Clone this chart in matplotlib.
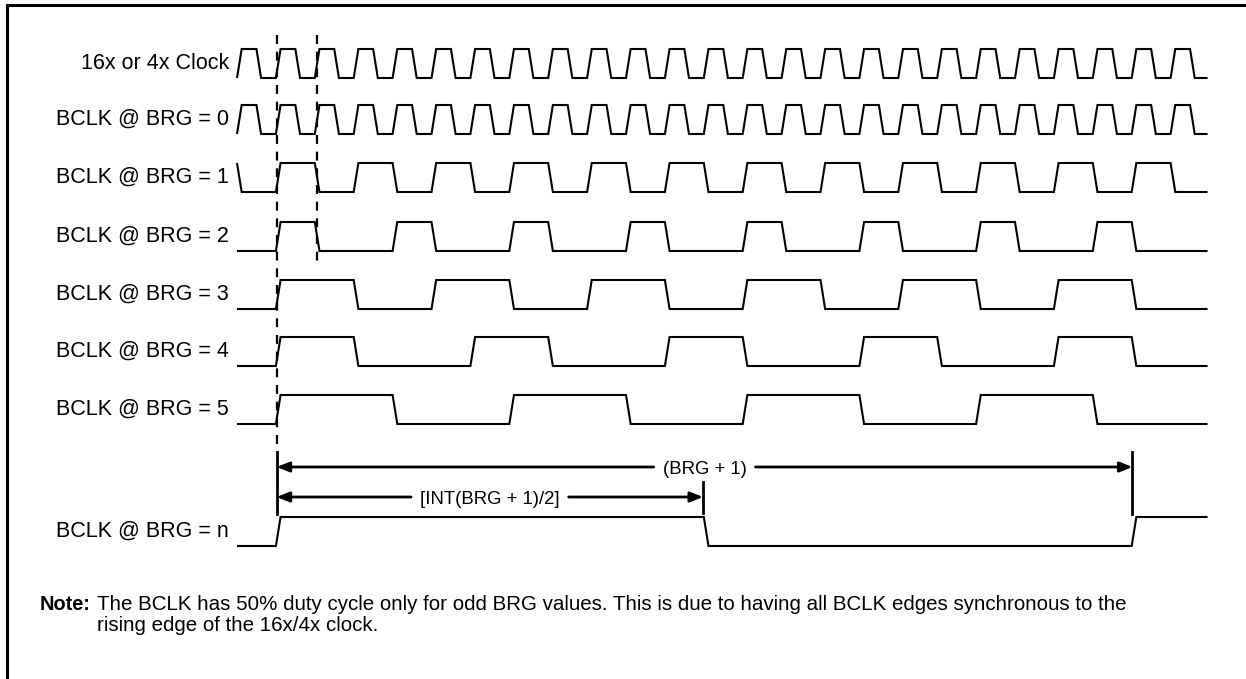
import matplotlib
matplotlib.use("Agg")
import matplotlib.pyplot as plt
from matplotlib.lines import Line2D

# ---------------- data (clock units: one unit = one 16x/4x clock period) -------------
row_labels = ["16x or 4x Clock", "BCLK @ BRG = 0", "BCLK @ BRG = 1", "BCLK @ BRG = 2",
              "BCLK @ BRG = 3", "BCLK @ BRG = 4", "BCLK @ BRG = 5", "BCLK @ BRG = n"]

clock_rise = [0, 1, 2, 3, 4, 5, 6, 7, 8, 9, 10, 11, 12, 13, 14, 15, 16, 17, 18, 19, 20, 21, 22, 23, 24]
clock_fall = [0.5, 1.5, 2.5, 3.5, 4.5, 5.5, 6.5, 7.5, 8.5, 9.5, 10.5, 11.5, 12.5, 13.5, 14.5,
              15.5, 16.5, 17.5, 18.5, 19.5, 20.5, 21.5, 22.5, 23.5, 24.5]
brg0_rise = [0, 1, 2, 3, 4, 5, 6, 7, 8, 9, 10, 11, 12, 13, 14, 15, 16, 17, 18, 19, 20, 21, 22, 23, 24]
brg0_fall = [0.5, 1.5, 2.5, 3.5, 4.5, 5.5, 6.5, 7.5, 8.5, 9.5, 10.5, 11.5, 12.5, 13.5, 14.5,
             15.5, 16.5, 17.5, 18.5, 19.5, 20.5, 21.5, 22.5, 23.5, 24.5]
brg1_rise = [1, 3, 5, 7, 9, 11, 13, 15, 17, 19, 21, 23]
brg1_fall = [0, 2, 4, 6, 8, 10, 12, 14, 16, 18, 20, 22, 24]
brg2_rise = [1, 4, 7, 10, 13, 16, 19, 22]
brg2_fall = [2, 5, 8, 11, 14, 17, 20, 23]
brg3_rise = [1, 5, 9, 13, 17, 21]
brg3_fall = [3, 7, 11, 15, 19, 23]
brg4_rise = [1, 6, 11, 16, 21]
brg4_fall = [3, 8, 13, 18, 23]
brg5_rise = [1, 7, 13, 19]
brg5_fall = [4, 10, 16, 22]
brgn_rise = [1, 23]
brgn_fall = [12]
start_high = [False, False, True, False, False, False, False, False]

waves = [(clock_rise, clock_fall), (brg0_rise, brg0_fall), (brg1_rise, brg1_fall),
         (brg2_rise, brg2_fall), (brg3_rise, brg3_fall), (brg4_rise, brg4_fall),
         (brg5_rise, brg5_fall), (brgn_rise, brgn_fall)]

t_end = 24.95
dash_marks = [1.04, 2.06]
span_full = (1.02, 23.02, "(BRG + 1)")
span_half = (1.02, 11.98, "[INT(BRG + 1)/2]")
note_bold = "Note:"
note_line1 = ("The BCLK has 50% duty cycle only for odd BRG values. This is due to having all "
              "BCLK edges synchronous to the")
note_line2 = "rising edge of the 16x/4x clock."

# ---------------- layout ----------------
W, H = 1246, 679
X0, PER = 237.0, 38.9          # pixel position of clock 0 and pixels per clock
row_high = [49, 105, 163, 222, 280, 337, 395, 517]
AMP = 29
EDGE = 0.12                     # transition time (clock units)
LW = 1.5

fig = plt.figure(figsize=(W / 100, H / 100), dpi=100)
ax = fig.add_axes([0, 0, 1, 1])
ax.set_xlim(-X0 / PER, (W - X0) / PER)
ax.set_ylim(H, 0)
ax.axis("off")

FONT = "Liberation Sans"


def px2t(x):
    return (x - X0) / PER


for i, ((rise, fall), lab) in enumerate(zip(waves, row_labels)):
    hi = row_high[i]
    lo = hi + AMP
    lvl = {True: hi, False: lo}
    cur = start_high[i]
    events = sorted([(t, True) for t in rise] + [(t, False) for t in fall])
    xs, ys = [0.0], [lvl[cur]]
    for t, new in events:
        xs += [t, t + EDGE]
        ys += [lvl[cur], lvl[new]]
        cur = new
    xs.append(t_end)
    ys.append(lvl[cur])
    ax.plot(xs, ys, color="black", lw=LW, solid_joinstyle="miter", solid_capstyle="butt")
    ax.text(px2t(229), (hi + lo) / 2 + 5.5, lab, ha="right", va="baseline",
            fontsize=15.5, family=FONT, color="black")

# dashed reference lines
ax.plot([dash_marks[0]] * 2, [35, 452], color="black", lw=1.6, dashes=(4, 3.5))
ax.plot([dash_marks[1]] * 2, [35, 266], color="black", lw=1.6, dashes=(4, 3.5))

# solid markers for the spans
ax.plot([span_full[0]] * 2, [452, 514], color="black", lw=2.0)
ax.plot([span_full[1]] * 2, [452, 514], color="black", lw=2.0)
ax.plot([span_half[1]] * 2, [482, 513], color="black", lw=2.0)

fig.canvas.draw()
renderer = fig.canvas.get_renderer()


def span_arrow(t0, t1, y, label, fs, gap_px):
    tmid = (t0 + t1) / 2
    txt = ax.text(tmid, y, label, ha="center", va="center_baseline", fontsize=fs,
                  family=FONT, color="black")
    bb = txt.get_window_extent(renderer)
    left = px2t(bb.x0 - gap_px)
    right = px2t(bb.x1 + gap_px)
    style = dict(arrowstyle="-|>,head_length=0.75,head_width=0.3", color="black",
                 lw=2.0, shrinkA=0, shrinkB=0, mutation_scale=10)
    ax.annotate("", xy=(t0, y), xytext=(left, y), arrowprops=style)
    ax.annotate("", xy=(t1, y), xytext=(right, y), arrowprops=style)


span_arrow(span_full[0], span_full[1], 467, span_full[2], 13.4, 9)
span_arrow(span_half[0], span_half[1], 497, span_half[2], 13.4, 9)

# note text
NOTE_FS = 14.8
fig.text(40 / W, 1 - 610 / H, note_bold, fontsize=NOTE_FS - 0.4, family=FONT, weight="bold",
         ha="left", va="baseline")
fig.text(97 / W, 1 - 610 / H, note_line1, fontsize=NOTE_FS, family=FONT, ha="left",
         va="baseline")
fig.text(97 / W, 1 - 631 / H, note_line2, fontsize=NOTE_FS, family=FONT, ha="left",
         va="baseline")

# frame (top and left edges)
fig.add_artist(Line2D([7 / W, 7 / W], [0, 1 - 5 / H], color="black", lw=2.2,
                      transform=fig.transFigure, solid_capstyle="projecting"))
fig.add_artist(Line2D([7 / W, 1], [1 - 5 / H, 1 - 5 / H], color="black", lw=2.2,
                      transform=fig.transFigure, solid_capstyle="projecting"))

fig.savefig("out.png", dpi=100)
